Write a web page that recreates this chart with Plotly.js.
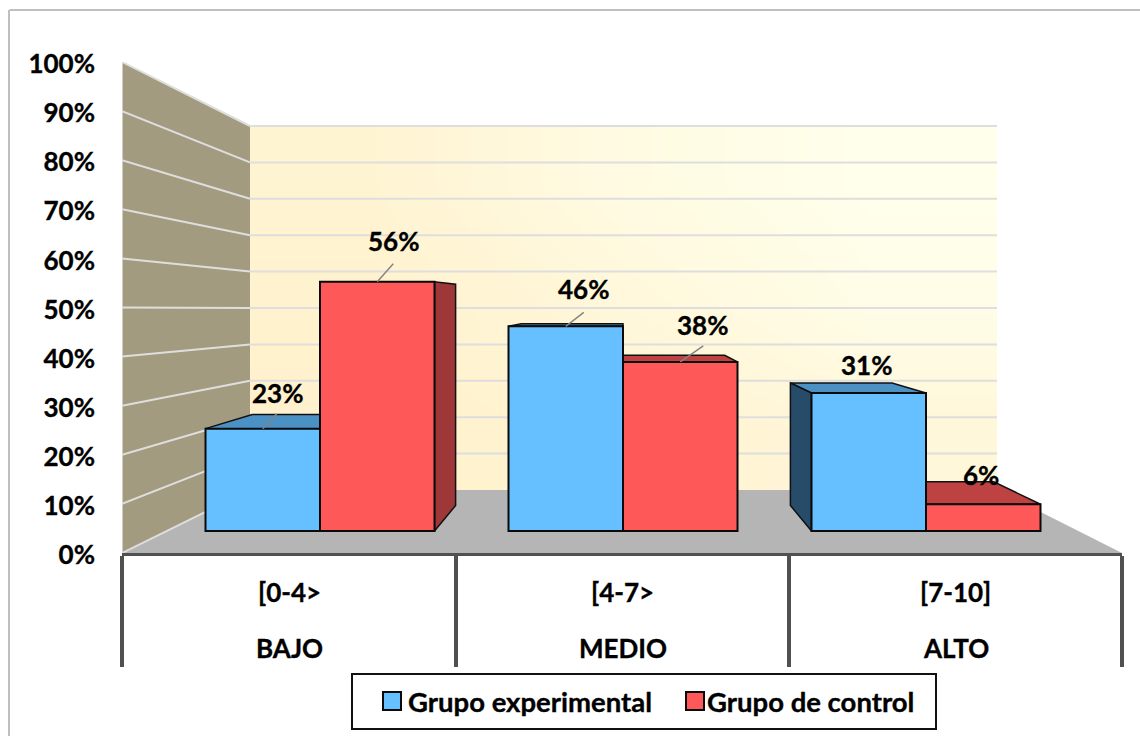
<!DOCTYPE html>
<html>
<head>
<meta charset="utf-8">
<script src="https://cdn.plot.ly/plotly-3.0.1.min.js"></script>
<style>
html,body{margin:0;padding:0;background:#fff;overflow:hidden}
#chart{width:1140px;height:736px}
#chart svg text{stroke:#000;stroke-width:0.35px}
#chart .legendpoints path{transform:translate(24px,0) scale(1.5);vector-effect:non-scaling-stroke}
#chart .traces:nth-child(2) .legendpoints path{transform:translate(28px,0) scale(1.5)}
</style>
</head>
<body>
<div id="chart"></div>
<script>
// ---- data ----
var rangos = ["[0-4>", "[4-7>", "[7-10]"];
var niveles = ["BAJO", "MEDIO", "ALTO"];
var grupoExperimental = [23, 46, 31];
var grupoControl = [56, 38, 6];
var nombreExperimental = "Grupo experimental";
var nombreControl = "Grupo de control";
var pctTicks = [0, 10, 20, 30, 40, 50, 60, 70, 80, 90, 100];
var pctLabels = pctTicks.map(function (v) { return v + "%"; });

// ---- styles ----
var FONT = "Lato, 'Open Sans', sans-serif";
var AZUL = "#66BFFF", ROJO = "#FF5858";
var AZUL_TOP = "#4B91C4", AZUL_SIDE = "#274C69";
var ROJO_TOP = "#BF4242", ROJO_SIDE = "#9E3737";

// ---- plot frame (pixels) ----
var W = 1140, H = 736, L = 122, R = 1122, T = 62, B = 553;
var PX_CAT = 303, CAT0 = 320;            // horizontal scale of the bar plane
var PX_PCT = 4.45, BASE = 531;           // vertical scale of the bar plane
var xRange = [(L - CAT0) / PX_CAT, (R - CAT0) / PX_CAT];
var yBarRange = [(BASE - B) / PX_PCT, (BASE - T) / PX_PCT];
var barW = 114.5 / PX_CAT;

// depth of the bars: perspective towards a vanishing point
var VX = 1, VY = (BASE - 303) / PX_PCT, F = 0.888;
function bx(x) { return VX + F * (x - VX); }
function by(y) { return VY + F * (y - VY); }

// room: back wall scale
var wallXL = (250 - CAT0) / PX_CAT, wallXR = (997 - CAT0) / PX_CAT;
function wallY(v) { return (553 - (490 - v * 3.64)) / 4.91; }

var traces = [];

// back wall gradient (main subplot)
var dxw = (wallXR - wallXL) / 3, y0w = wallY(0), dyw = (wallY(100) - wallY(0)) / 3;
traces.push({
  type: "heatmap", xaxis: "x", yaxis: "y", showscale: false, hoverinfo: "skip", zsmooth: "best",
  x0: wallXL + dxw / 2, dx: dxw, y0: y0w + dyw / 2, dy: dyw,
  z: [[0.02, 0.15, 0.4], [0.05, 0.45, 0.85], [0.2, 0.7, 1]],
  zmin: 0, zmax: 1, colorscale: [[0, "#FFF1CC"], [1, "#FFFFEC"]]
});

// back wall grid lines
var gx = [], gy = [];
pctTicks.forEach(function (v) {
  if (v === 0) return;
  gx.push(wallXL, wallXR, null); gy.push(wallY(v), wallY(v), null);
});
traces.push({
  type: "scatter", mode: "lines", xaxis: "x", yaxis: "y", x: gx, y: gy, hoverinfo: "skip",
  showlegend: false, line: { color: "#DEDEDE", width: 2 }
});

// 3D faces of the bars
function face(pts, color) {
  var xs = pts.map(function (p) { return p[0]; });
  var ys = pts.map(function (p) { return p[1]; });
  xs.push(xs[0]); ys.push(ys[0]);
  traces.push({
    type: "scatter", mode: "lines", fill: "toself", fillcolor: color, x: xs, y: ys,
    xaxis: "x", yaxis: "y2", hoverinfo: "skip", showlegend: false,
    line: { color: "#111", width: 1.5 }
  });
}
function faces(values, offset, top, side) {
  values.forEach(function (v, i) {
    var xl = i + offset, xr = xl + barW;
    if (v < VY) face([[xl, v], [xr, v], [bx(xr), by(v)], [bx(xl), by(v)]], top);
    if (xr < VX) face([[xr, 0], [xr, v], [bx(xr), by(v)], [bx(xr), by(0)]], side);
    if (xl > VX) face([[xl, 0], [xl, v], [bx(xl), by(v)], [bx(xl), by(0)]], side);
  });
}
faces(grupoControl, 0, ROJO_TOP, ROJO_SIDE);
faces(grupoExperimental, -barW, AZUL_TOP, AZUL_SIDE);

// front faces of the bars
var idx = rangos.map(function (_, i) { return i; });
traces.push({
  type: "bar", name: nombreExperimental, x: idx, y: grupoExperimental, xaxis: "x", yaxis: "y3",
  marker: { color: AZUL, line: { color: "#0A0A0A", width: 2 } }, hoverinfo: "skip"
});
traces.push({
  type: "bar", name: nombreControl, x: idx, y: grupoControl, xaxis: "x", yaxis: "y3",
  marker: { color: ROJO, line: { color: "#0A0A0A", width: 2 } }, hoverinfo: "skip"
});

// leader lines: pixel offsets of the label callouts, from the top centre of a bar
var leaders = [
  { s: 0, i: 0, dx: 14, dy: 15 }, { s: 1, i: 0, dx: 16, dy: 18 },
  { s: 0, i: 1, dx: 18, dy: 14 }, { s: 1, i: 1, dx: 23, dy: 16 }
];
function barCenter(s, i) { return i + (s === 0 ? -barW / 2 : barW / 2); }
function barVal(s, i) { return s === 0 ? grupoExperimental[i] : grupoControl[i]; }
var lx = [], ly = [];
leaders.forEach(function (l) {
  var cx = barCenter(l.s, l.i), v = barVal(l.s, l.i);
  lx.push(cx, cx + l.dx / PX_CAT, null);
  ly.push(v, v + l.dy / PX_PCT, null);
});
traces.push({
  type: "scatter", mode: "lines", xaxis: "x", yaxis: "y3", x: lx, y: ly, hoverinfo: "skip",
  showlegend: false, line: { color: "#858585", width: 1.5 }
});

// ---- annotations ----
var annotations = [];
var labelShift = [
  [[15, 36], [18, 37], [-2, 28]],
  [[16.5, 41], [22.5, 37], [-2, 29]]
];
[grupoExperimental, grupoControl].forEach(function (vals, s) {
  vals.forEach(function (v, i) {
    annotations.push({
      xref: "x", yref: "y3", x: barCenter(s, i), y: v, text: v + "%", showarrow: false,
      xshift: labelShift[s][i][0], yshift: labelShift[s][i][1],
      xanchor: "center", yanchor: "middle",
      font: { family: FONT, size: 26, color: "#000", weight: 700 }
    });
  });
});
var seps = [xRange[0], (456 - CAT0) / PX_CAT, (789 - CAT0) / PX_CAT, xRange[1]];
rangos.forEach(function (r, i) {
  var cx = (seps[i] + seps[i + 1]) / 2;
  annotations.push({
    xref: "x", yref: "paper", x: cx, y: 0, yshift: -39, text: r, showarrow: false,
    xanchor: "center", yanchor: "middle", font: { family: FONT, size: 26, color: "#000", weight: 700 }
  });
  annotations.push({
    xref: "x", yref: "paper", x: cx, y: 0, yshift: -95, text: niveles[i], showarrow: false,
    xanchor: "center", yanchor: "middle", font: { family: FONT, size: 26, color: "#000", weight: 700 }
  });
});

// ---- room shapes ----
function px2x(p) { return (p - L) / (R - L); }
function py2y(p) { return (B - p) / (B - T); }
var shapes = [];
// outer frame: top and left edges only reach the picture's borders
shapes.push({ type: "line", xref: "paper", yref: "paper", x0: px2x(9.5), x1: px2x(W), y0: py2y(10), y1: py2y(10), line: { color: "#BFBFBF", width: 2 }, layer: "below" });
shapes.push({ type: "line", xref: "paper", yref: "paper", x0: px2x(9), x1: px2x(9), y0: py2y(10), y1: py2y(H), line: { color: "#BFBFBF", width: 2 }, layer: "below" });
// left wall
shapes.push({
  type: "path", xref: "x", yref: "y", layer: "below", fillcolor: "#A39B7F", line: { width: 0 },
  path: "M" + xRange[0] + ",0L" + xRange[0] + ",100L" + wallXL + "," + wallY(100) + "L" + wallXL + "," + wallY(0) + "Z"
});
// floor
shapes.push({
  type: "path", xref: "x", yref: "y", layer: "below", fillcolor: "#B5B5B5", line: { width: 0 },
  path: "M" + xRange[0] + ",0L" + wallXL + "," + wallY(0) + "L" + wallXR + "," + wallY(0) + "L" + xRange[1] + ",0Z"
});
// left wall grid lines
pctTicks.forEach(function (v) {
  shapes.push({
    type: "line", xref: "x", yref: "y", layer: "below", x0: xRange[0], x1: wallXL, y0: v, y1: wallY(v),
    line: { color: "#DEDEDE", width: 2 }
  });
});
// left wall front edge
shapes.push({ type: "line", xref: "x", yref: "y", layer: "below", x0: xRange[0], x1: xRange[0], y0: 0, y1: 100, line: { color: "#DEDEDE", width: 1.5 } });
// legend box
shapes.push({
  type: "rect", xref: "paper", yref: "paper", x0: px2x(352), x1: px2x(936), y0: py2y(674), y1: py2y(729),
  fillcolor: "#fff", line: { color: "#111", width: 2 }, layer: "above"
});

var layout = {
  width: W, height: H,
  margin: { l: L, r: W - R, t: T, b: H - B, pad: 0, autoexpand: false },
  paper_bgcolor: "rgba(0,0,0,0)", plot_bgcolor: "rgba(0,0,0,0)",
  font: { family: FONT, color: "#000" },
  barmode: "group", bargap: 1 - 2 * barW, bargroupgap: 0,
  showlegend: true,
  legend: {
    orientation: "h", x: px2x(368), xanchor: "left", y: py2y(701), yanchor: "middle",
    bgcolor: "rgba(0,0,0,0)", borderwidth: 0, itemclick: false, itemdoubleclick: false,
    font: { family: FONT, size: 27.5, color: "#000", weight: 700 }, traceorder: "normal", itemwidth: 30,
    entrywidth: 254, entrywidthmode: "pixels"
  },
  xaxis: {
    range: xRange, showgrid: false, zeroline: false, showticklabels: false,
    tickmode: "array", tickvals: seps, ticktext: ["", "", "", ""],
    ticks: "outside", ticklen: 111, tickwidth: 4, tickcolor: "#505050",
    showline: true, linecolor: "#505050", linewidth: 3, anchor: "y"
  },
  yaxis: {
    range: [0, 100], showgrid: false, zeroline: false, showline: false,
    tickmode: "array", tickvals: pctTicks, ticktext: pctLabels, ticks: "", ticklabelstandoff: 26, ticklabelshift: 2,
    tickfont: { family: FONT, size: 26, color: "#000", weight: 700 }, anchor: "x"
  },
  yaxis2: { range: yBarRange, overlaying: "y", visible: false, anchor: "x" },
  yaxis3: { range: yBarRange, overlaying: "y", visible: false, anchor: "x" },
  shapes: shapes,
  annotations: annotations
};

Plotly.newPlot("chart", traces, layout, { displayModeBar: false, staticPlot: false, responsive: false });
</script>
</body>
</html>
